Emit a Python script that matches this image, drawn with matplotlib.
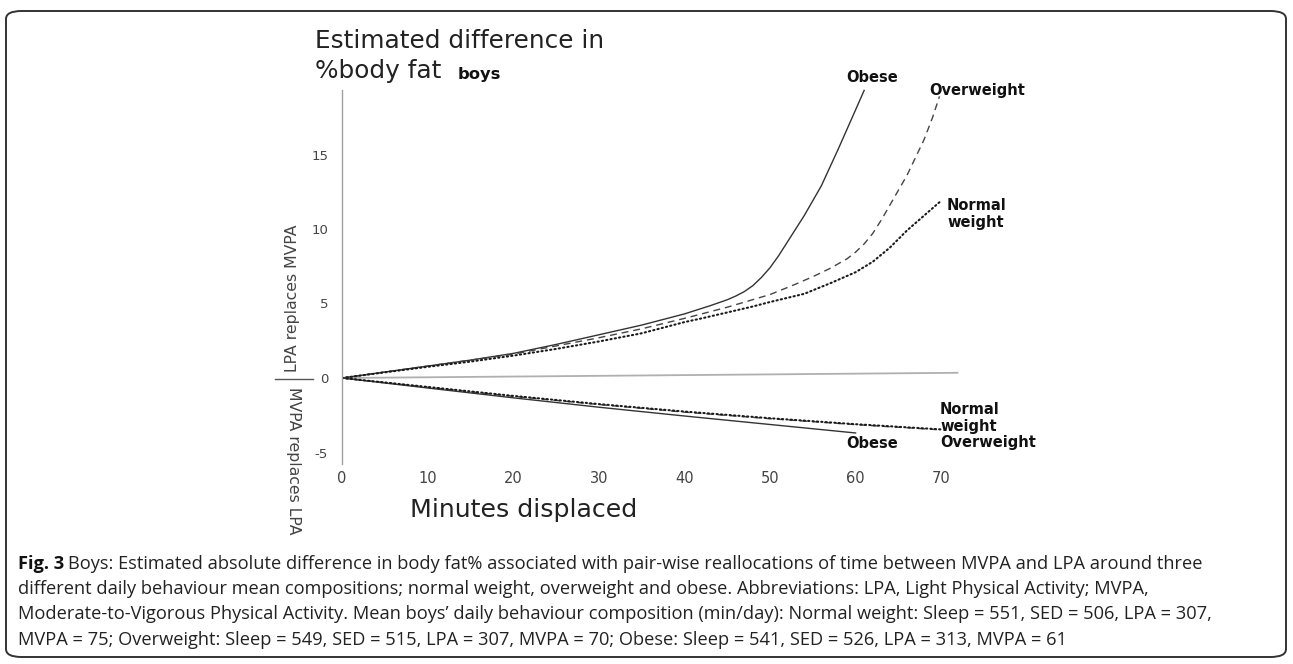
import matplotlib
matplotlib.use("Agg")
import matplotlib.pyplot as plt
from matplotlib.lines import Line2D
from matplotlib.patches import FancyBboxPatch
import matplotlib.font_manager as fm

# ---------------- data ----------------
obese_up_x = [0, 5, 10, 15, 20, 25, 30, 35, 40, 43, 45, 46, 47, 48, 49, 50, 51, 52, 53, 54, 56, 58, 60, 61]
obese_up_y = [0, 0.4, 0.8, 1.2, 1.65, 2.25, 2.9, 3.55, 4.3, 4.85, 5.25, 5.5, 5.8, 6.2, 6.75, 7.4, 8.2, 9.1, 10.0, 10.9, 12.9, 15.4, 18.0, 19.3]

over_up_x = [0, 5, 10, 15, 20, 25, 30, 35, 40, 45, 50, 53, 55, 57, 59, 60, 61, 62, 63, 64, 65, 66, 67, 68, 69, 69.8]
over_up_y = [0, 0.4, 0.8, 1.2, 1.6, 2.15, 2.7, 3.3, 4.0, 4.75, 5.6, 6.3, 6.8, 7.35, 8.0, 8.45, 9.0, 9.7, 10.6, 11.6, 12.6, 13.6, 14.8, 16.0, 17.5, 18.9]

norm_up_x = [0, 5, 10, 15, 20, 25, 30, 35, 40, 42, 45, 48, 50, 54, 57, 60, 62, 64, 66, 68, 69.8]
norm_up_y = [0, 0.38, 0.75, 1.1, 1.5, 1.95, 2.45, 3.0, 3.75, 4.0, 4.4, 4.8, 5.1, 5.65, 6.35, 7.1, 7.8, 8.75, 9.9, 10.9, 11.8]

norm_low_x = [0, 10, 20, 30, 40, 50, 60, 70]
norm_low_y = [0, -0.6, -1.2, -1.75, -2.25, -2.7, -3.1, -3.45]
over_low_x = [0, 10, 20, 30, 40, 50, 60, 70]
over_low_y = [0, -0.62, -1.23, -1.78, -2.29, -2.73, -3.13, -3.48]
obese_low_x = [0, 10, 20, 30, 40, 50, 60]
obese_low_y = [0, -0.67, -1.33, -1.96, -2.55, -3.12, -3.69]

zero_x = [0, 72]
zero_y = [0, 0.35]

x_ticks = [0, 10, 20, 30, 40, 50, 60, 70]
x_tick_labels = ["0", "10", "20", "30", "40", "50", "60", "70"]
y_ticks = [-5, 0, 5, 10, 15]
y_tick_labels = ["-5", "0", "5", "10", "15"]

title_lines = ["Estimated difference in", "%body fat"]
subtitle = "boys"
x_title = "Minutes displaced"
upper_side = "LPA replaces MVPA"
lower_side = "MVPA replaces LPA"

caption_bold = "Fig. 3"
caption_lines = [
    "Boys: Estimated absolute difference in body fat% associated with pair-wise reallocations of time between MVPA and LPA around three",
    "different daily behaviour mean compositions; normal weight, overweight and obese. Abbreviations: LPA, Light Physical Activity; MVPA,",
    "Moderate-to-Vigorous Physical Activity. Mean boys\u2019 daily behaviour composition (min/day): Normal weight: Sleep = 551, SED = 506, LPA = 307,",
    "MVPA = 75; Overweight: Sleep = 549, SED = 515, LPA = 307, MVPA = 70; Obese: Sleep = 541, SED = 526, LPA = 313, MVPA = 61",
]

# ---------------- figure ----------------
W, H = 1293, 664
fig = plt.figure(figsize=(W / 100, H / 100), dpi=100)
fig.patch.set_facecolor("white")

names = {f.name for f in fm.fontManager.ttflist}
cap_font = None
for cand in ["Liberation Sans Narrow", "Open Sans", "Roboto", "Liberation Sans", "DejaVu Sans"]:
    if cand in names:
        cap_font = cand
        break

chart_font = "DejaVu Sans"

def fx(px):
    return px / W

def fy(py):
    return 1 - py / H

# axes placement (pixel geometry)
x0_px, px_per_min = 342, 8.56
y0_px, px_per_unit = 378, 14.9
ax_left, ax_right = 342, 967
ax_top, ax_bot = 80, 470
ax = fig.add_axes([fx(ax_left), fy(ax_bot), (ax_right - ax_left) / W, (ax_bot - ax_top) / H])
ax.set_xlim(0, (ax_right - x0_px) / px_per_min)
ax.set_ylim((y0_px - ax_bot) / px_per_unit, (y0_px - ax_top) / px_per_unit)
ax.set_facecolor("none")
for s in ["top", "right", "bottom"]:
    ax.spines[s].set_visible(False)
ax.spines["left"].set_color("#a0a0a0")
ax.spines["left"].set_linewidth(1.0)
ax.spines["left"].set_bounds((y0_px - 464) / px_per_unit, (y0_px - 90) / px_per_unit)

ax.set_xticks(x_ticks)
ax.set_xticklabels(x_tick_labels, fontsize=10.5, color="#444444", family=chart_font)
ax.set_yticks(y_ticks)
ax.set_yticklabels(y_tick_labels, fontsize=9.5, color="#444444", family=chart_font)
ax.tick_params(axis="x", length=0, pad=1)
ax.tick_params(axis="y", length=0, pad=10)

# zero reference line
ax.plot(zero_x, zero_y, color="#b0b0b0", lw=1.3, solid_capstyle="butt")

# curves
ax.plot(obese_up_x, obese_up_y, color="#333333", lw=1.0)
ax.plot(over_up_x, over_up_y, color="#444444", lw=1.0, linestyle=(0, (5, 3.5)))
ax.plot(norm_up_x, norm_up_y, color="#1a1a1a", lw=1.5, linestyle=(0, (0.6, 1.5)), dash_capstyle="round")

ax.plot(obese_low_x, obese_low_y, color="#333333", lw=1.0)
ax.plot(over_low_x, over_low_y, color="#444444", lw=1.0, linestyle=(0, (5, 3.5)))
ax.plot(norm_low_x, norm_low_y, color="#1a1a1a", lw=1.5, linestyle=(0, (0.6, 1.5)), dash_capstyle="round")

# curve labels
lab_kw = dict(fontsize=10.5, fontweight="bold", color="#111111", family=chart_font, clip_on=False)
def dpx(px):
    return (px - x0_px) / px_per_min
def dpy(py):
    return (y0_px - py) / px_per_unit

ax.text(dpx(872), dpy(77), "Obese", ha="center", va="center", **lab_kw)
ax.text(dpx(929), dpy(91), "Overweight", ha="left", va="center", **lab_kw)
ax.text(dpx(947), dpy(214), "Normal\nweight", ha="left", va="center", linespacing=1.15, **lab_kw)
ax.text(dpx(940), dpy(418), "Normal\nweight", ha="left", va="center", linespacing=1.15, **lab_kw)
ax.text(dpx(872), dpy(443), "Obese", ha="center", va="center", **lab_kw)
ax.text(dpx(940), dpy(443), "Overweight", ha="left", va="center", **lab_kw)

renderer = fig.canvas.get_renderer()

def fit_width(t, target):
    w = t.get_window_extent(renderer).width
    t.set_fontsize(t.get_fontsize() * target / w)

def fit_height(t, target):
    h = t.get_window_extent(renderer).height
    t.set_fontsize(t.get_fontsize() * target / h)

# titles
t1 = fig.text(fx(315), fy(48), title_lines[0], ha="left", va="baseline", fontsize=17,
              color="#222222", family=chart_font)
fit_width(t1, 288)
t2 = fig.text(fx(315), fy(78), title_lines[1], ha="left", va="baseline",
              fontsize=t1.get_fontsize(), color="#222222", family=chart_font)
tb = fig.text(fx(458), fy(79), subtitle, ha="left", va="baseline", fontsize=11,
              fontweight="bold", color="#111111", family=chart_font)
fit_width(tb, 43)

tx = fig.text(fx(410), fy(510), x_title, ha="left", va="center", fontsize=17,
              color="#222222", family=chart_font)
fit_width(tx, 228)

# side labels
ts1 = fig.text(fx(293), fy(372), upper_side, rotation=90, ha="center", va="bottom",
               fontsize=10, color="#444444", family=chart_font)
fit_height(ts1, 148)
ts2 = fig.text(fx(293), fy(387), lower_side, rotation=-90, ha="center", va="top",
               fontsize=ts1.get_fontsize(), color="#444444", family=chart_font)
fig.add_artist(Line2D([fx(275), fx(313)], [fy(379), fy(379)], color="#555555", lw=1.0))

# caption
cb = fig.text(fx(18), fy(564), caption_bold, ha="left", va="center", fontsize=12,
              fontweight="bold", color="#111111", family=cap_font)
c_first = fig.text(fx(68), fy(564), caption_lines[0], ha="left", va="center",
                   fontsize=12, color="#222222", family=cap_font)
fit_width(c_first, 1127)
cfs = c_first.get_fontsize()
cb.set_fontsize(cfs)
c_ys = [589, 614, 640]
for line, yy in zip(caption_lines[1:], c_ys):
    fig.text(fx(18), fy(yy), line, ha="left", va="center", fontsize=cfs,
             color="#222222", family=cap_font)

# border
box = FancyBboxPatch((fx(6), fy(657)), fx(1280), (657 - 11) / H,
                     boxstyle="round,pad=0,rounding_size=0.012",
                     transform=fig.transFigure, fill=False, edgecolor="#333333", lw=1.4)
fig.add_artist(box)

fig.savefig("out.png", dpi=100, facecolor="white")
